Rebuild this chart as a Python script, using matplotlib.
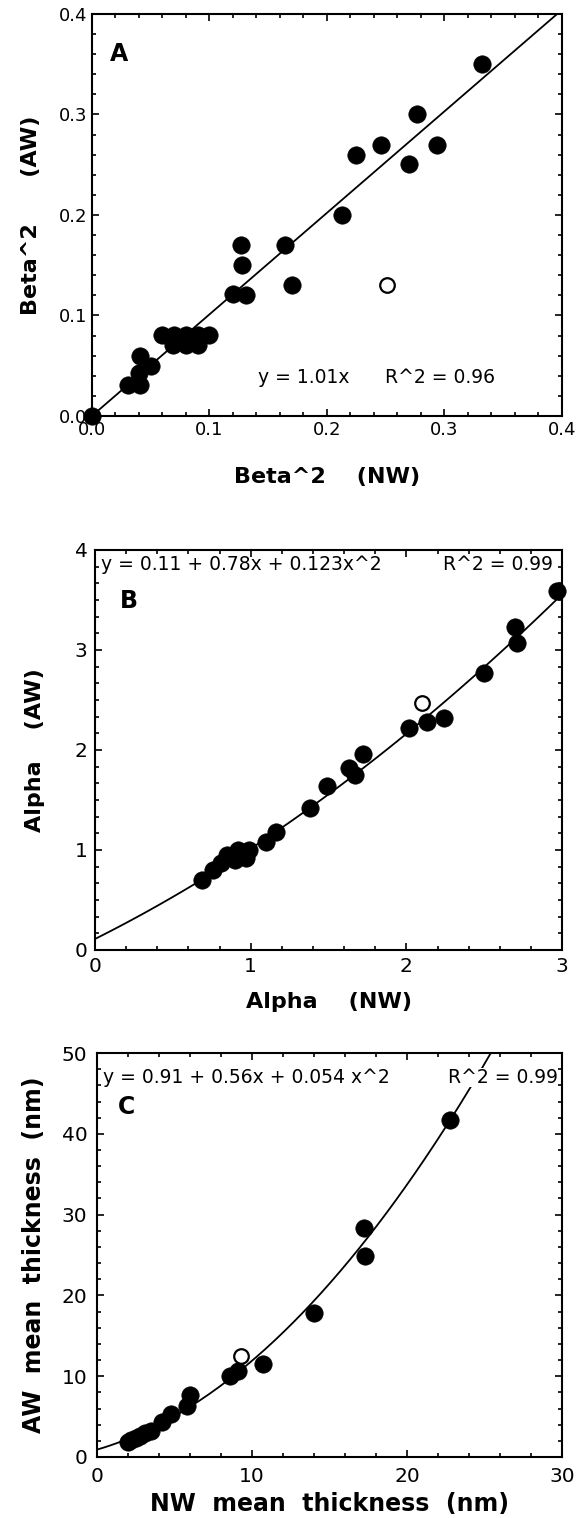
import numpy as np
import matplotlib
matplotlib.use('Agg')
import matplotlib.pyplot as plt
from matplotlib.ticker import MultipleLocator, AutoMinorLocator, FormatStrFormatter

plt.rcParams['font.family'] = ['DejaVu Sans']

# --- Panel A: Beta^2 ---
beta_nw = [0.0, 0.031, 0.041, 0.040, 0.041, 0.050, 0.060, 0.070, 0.080, 0.090,
           0.100, 0.069, 0.080, 0.090, 0.120, 0.131, 0.128, 0.127, 0.164, 0.170,
           0.213, 0.225, 0.246, 0.270, 0.277, 0.294, 0.332]
beta_aw = [0.0, 0.031, 0.031, 0.043, 0.060, 0.050, 0.081, 0.081, 0.081, 0.081,
           0.081, 0.071, 0.071, 0.071, 0.121, 0.120, 0.150, 0.170, 0.170, 0.130,
           0.200, 0.260, 0.270, 0.251, 0.300, 0.270, 0.350]
beta_open_nw = [0.251]
beta_open_aw = [0.130]
beta_fit = [0.0, 1.01]          # y = a + b x

# --- Panel B: Alpha ---
alpha_nw = [0.69, 0.76, 0.81, 0.85, 0.90, 0.92, 0.97, 0.99, 1.10, 1.16, 1.38,
            1.49, 1.63, 1.67, 1.72, 2.02, 2.13, 2.24, 2.50, 2.70, 2.71, 2.97]
alpha_aw = [0.70, 0.80, 0.87, 0.95, 0.90, 1.00, 0.92, 1.00, 1.08, 1.18, 1.42,
            1.64, 1.82, 1.75, 1.96, 2.22, 2.28, 2.32, 2.77, 3.23, 3.07, 3.59]
alpha_open_nw = [2.10]
alpha_open_aw = [2.47]
alpha_fit = [0.11, 0.78, 0.123]  # y = a + b x + c x^2

# --- Panel C: mean thickness ---
thick_nw = [2.0, 2.2, 2.5, 2.8, 3.1, 3.5, 4.2, 4.8, 5.8, 6.0, 8.6, 9.1, 10.7,
            14.0, 17.2, 17.3, 22.8]
thick_aw = [1.9, 2.1, 2.4, 2.6, 3.0, 3.2, 4.3, 5.3, 6.3, 7.7, 10.0, 10.6, 11.5,
            17.8, 28.3, 24.9, 41.7]
thick_open_nw = [9.3]
thick_open_aw = [12.5]
thick_fit = [0.91, 0.56, 0.054]


def style_axes(ax, xlim, ylim, xmajor, ymajor, xminor_n, yminor_n,
               tick_size, xpad, ypad, fmt=None):
    ax.set_xlim(*xlim)
    ax.set_ylim(*ylim)
    ax.xaxis.set_major_locator(MultipleLocator(xmajor))
    ax.yaxis.set_major_locator(MultipleLocator(ymajor))
    ax.xaxis.set_minor_locator(AutoMinorLocator(xminor_n))
    ax.yaxis.set_minor_locator(AutoMinorLocator(yminor_n))
    if fmt:
        ax.xaxis.set_major_formatter(FormatStrFormatter(fmt))
        ax.yaxis.set_major_formatter(FormatStrFormatter(fmt))
    ax.tick_params(which='both', direction='in', top=True, right=True, width=1.2)
    ax.tick_params(which='major', length=5, labelsize=tick_size)
    ax.tick_params(which='minor', length=3)
    ax.tick_params(axis='x', pad=xpad)
    ax.tick_params(axis='y', pad=ypad)
    for s in ax.spines.values():
        s.set_linewidth(1.5)


def draw_points(ax, x, y, xo, yo):
    ax.plot(x, y, 'o', color='black', markersize=12.5, markeredgewidth=0.5,
            zorder=3, clip_on=False)
    ax.plot(xo, yo, 'o', markerfacecolor='white', markeredgecolor='black',
            markersize=10.5, markeredgewidth=1.6, zorder=3)


fig = plt.figure(figsize=(5.78, 15.18), dpi=100)

# ---------------- A ----------------
ax1 = fig.add_axes([0.159, 0.726, 0.813, 0.2648])
xs = np.linspace(0, 0.4, 50)
ax1.plot(xs, beta_fit[0] + beta_fit[1] * xs, color='black', lw=1.3, zorder=2)
draw_points(ax1, beta_nw, beta_aw, beta_open_nw, beta_open_aw)
style_axes(ax1, (0, 0.4), (0, 0.4), 0.1, 0.1, 5, 5, 13, 3.5, 3.5, fmt='%.1f')
ax1.set_xlabel('Beta^2    (NW)', fontsize=16, fontweight='bold', va='center')
ax1.xaxis.set_label_coords(0.5, -0.153)
ax1.set_ylabel('Beta^2      (AW)', fontsize=16, fontweight='bold', va='center')
ax1.yaxis.set_label_coords(-0.13, 0.5)
ax1.text(0.038, 0.90, 'A', transform=ax1.transAxes, fontsize=17,
         fontweight='bold', va='center', ha='left')
ax1.text(0.353, 0.0945, 'y = 1.01x', transform=ax1.transAxes, fontsize=13.5,
         va='center', ha='left')
ax1.text(0.623, 0.0945, 'R^2 = 0.96', transform=ax1.transAxes, fontsize=13.5,
         va='center', ha='left')

# ---------------- B ----------------
ax2 = fig.add_axes([0.1644, 0.3742, 0.808, 0.2635])
xs = np.linspace(0, 3, 100)
ax2.plot(xs, alpha_fit[0] + alpha_fit[1] * xs + alpha_fit[2] * xs ** 2,
         color='black', lw=1.3, zorder=2)
draw_points(ax2, alpha_nw, alpha_aw, alpha_open_nw, alpha_open_aw)
style_axes(ax2, (0, 3), (0, 4), 1, 1, 5, 6, 14.5, 5, 5.5)
ax2.set_xlabel('Alpha    (NW)', fontsize=16, fontweight='bold', va='center')
ax2.xaxis.set_label_coords(0.5, -0.13)
ax2.set_ylabel('Alpha    (AW)', fontsize=16, fontweight='bold', va='center')
ax2.yaxis.set_label_coords(-0.128, 0.5)
ax2.text(0.054, 0.872, 'B', transform=ax2.transAxes, fontsize=17,
         fontweight='bold', va='center', ha='left')
ax2.text(0.013, 0.9625, 'y = 0.11 + 0.78x + 0.123x^2', transform=ax2.transAxes,
         fontsize=13.5, va='center', ha='left')
ax2.text(0.981, 0.9625, 'R^2 = 0.99', transform=ax2.transAxes,
         fontsize=13.5, va='center', ha='right')

# ---------------- C ----------------
ax3 = fig.add_axes([0.1678, 0.0402, 0.8045, 0.2661])
xs = np.linspace(0, 30, 200)
ax3.plot(xs, thick_fit[0] + thick_fit[1] * xs + thick_fit[2] * xs ** 2,
         color='black', lw=1.3, zorder=2)
draw_points(ax3, thick_nw, thick_aw, thick_open_nw, thick_open_aw)
style_axes(ax3, (0, 30), (0, 50), 10, 10, 5, 5, 14.5, 7, 7)
ax3.set_xlabel('NW  mean  thickness  (nm)', fontsize=17, fontweight='bold', va='center')
ax3.xaxis.set_label_coords(0.5, -0.1176)
ax3.set_ylabel('AW  mean  thickness  (nm)', fontsize=17, fontweight='bold', va='center')
ax3.yaxis.set_label_coords(-0.135, 0.5)
ax3.text(0.045, 0.866, 'C', transform=ax3.transAxes, fontsize=17,
         fontweight='bold', va='center', ha='left')
ax3.text(0.013, 0.94, 'y = 0.91 + 0.56x + 0.054 x^2', transform=ax3.transAxes,
         fontsize=13.5, va='center', ha='left', zorder=4,
         bbox=dict(facecolor='white', edgecolor='none', pad=0))
ax3.text(0.991, 0.94, 'R^2 = 0.99', transform=ax3.transAxes,
         fontsize=13.5, va='center', ha='right', zorder=4,
         bbox=dict(facecolor='white', edgecolor='none', pad=0))

fig.savefig('out.png', dpi=100)
